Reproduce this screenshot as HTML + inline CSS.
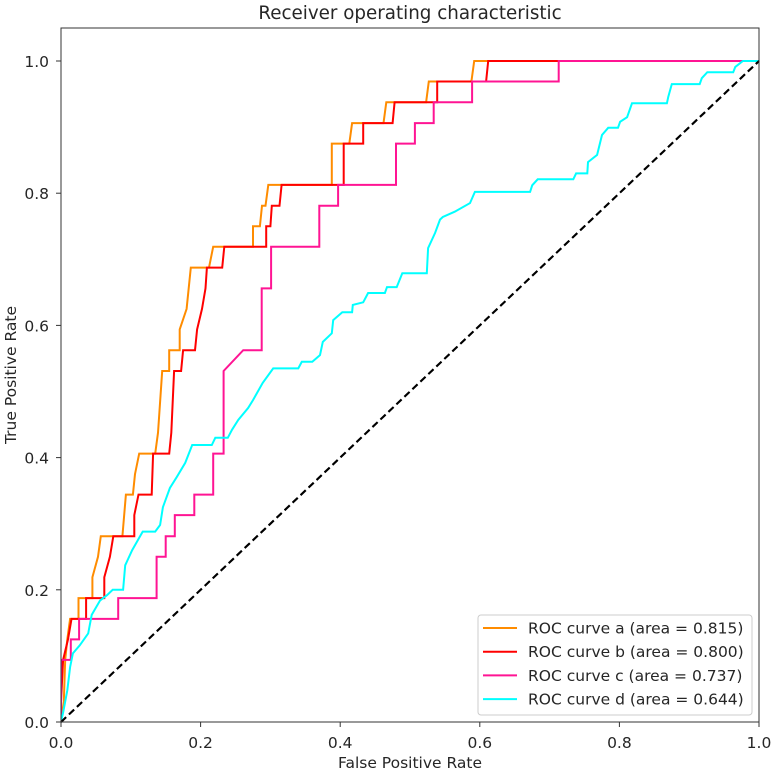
<!DOCTYPE html>
<html><head><meta charset="utf-8"><style>
body{margin:0;background:#fff;}
svg text{font-family:"DejaVu Sans","Liberation Sans",sans-serif;fill:#262626;}
</style></head><body>
<svg id="chart" width="775" height="775" viewBox="0 0 775 775" xmlns="http://www.w3.org/2000/svg">
<rect width="775" height="775" fill="#fff"/>
<g id="plot"></g>
</svg>
<script>
const curveA = [[0,0],[0.004,0.031],[0.006,0.094],[0.009,0.125],[0.013,0.156],[0.025,0.156],[0.025,0.1875],[0.045,0.1875],[0.045,0.219],[0.053,0.25],[0.057,0.281],[0.088,0.281],[0.093,0.344],[0.103,0.344],[0.106,0.375],[0.112,0.406],[0.135,0.406],[0.139,0.4375],[0.145,0.531],[0.155,0.531],[0.155,0.5625],[0.17,0.5625],[0.17,0.594],[0.18,0.625],[0.186,0.6875],[0.212,0.6875],[0.218,0.719],[0.275,0.719],[0.275,0.75],[0.285,0.75],[0.288,0.781],[0.293,0.781],[0.297,0.8125],[0.388,0.8125],[0.388,0.875],[0.413,0.875],[0.417,0.906],[0.462,0.906],[0.466,0.9375],[0.523,0.9375],[0.527,0.969],[0.588,0.969],[0.592,1],[1,1]];
const curveB = [[0,0],[0,0.031],[0.003,0.094],[0.01,0.125],[0.015,0.156],[0.036,0.156],[0.036,0.1875],[0.062,0.1875],[0.062,0.219],[0.07,0.25],[0.075,0.281],[0.105,0.281],[0.105,0.313],[0.111,0.344],[0.13,0.344],[0.132,0.406],[0.155,0.406],[0.158,0.4375],[0.162,0.531],[0.172,0.531],[0.175,0.5625],[0.192,0.5625],[0.195,0.594],[0.202,0.625],[0.207,0.656],[0.209,0.6875],[0.231,0.6875],[0.234,0.719],[0.294,0.719],[0.294,0.75],[0.3,0.75],[0.302,0.781],[0.313,0.781],[0.316,0.8125],[0.405,0.8125],[0.405,0.875],[0.433,0.875],[0.433,0.906],[0.475,0.906],[0.478,0.9375],[0.539,0.9375],[0.539,0.969],[0.609,0.969],[0.612,1],[1,1]];
const curveC = [[0,0],[0,0.094],[0.014,0.094],[0.014,0.125],[0.026,0.125],[0.026,0.156],[0.082,0.156],[0.082,0.1875],[0.137,0.1875],[0.137,0.25],[0.15,0.25],[0.15,0.281],[0.163,0.281],[0.163,0.313],[0.191,0.313],[0.191,0.344],[0.218,0.344],[0.218,0.406],[0.233,0.406],[0.233,0.531],[0.261,0.5625],[0.2876,0.5625],[0.2876,0.656],[0.301,0.656],[0.301,0.719],[0.37,0.719],[0.37,0.781],[0.397,0.781],[0.397,0.8125],[0.48,0.8125],[0.48,0.875],[0.507,0.875],[0.507,0.906],[0.534,0.906],[0.534,0.9375],[0.589,0.9375],[0.589,0.969],[0.713,0.969],[0.713,1],[1,1]];
const curveD = [[0,0],[0.003,0.014],[0.009,0.048],[0.013,0.083],[0.017,0.104],[0.027,0.116],[0.039,0.134],[0.044,0.162],[0.056,0.184],[0.066,0.192],[0.074,0.2],[0.089,0.2],[0.092,0.237],[0.102,0.26],[0.11,0.275],[0.117,0.288],[0.135,0.288],[0.142,0.298],[0.146,0.325],[0.156,0.354],[0.166,0.371],[0.178,0.392],[0.188,0.419],[0.216,0.419],[0.221,0.43],[0.239,0.43],[0.245,0.442],[0.254,0.457],[0.268,0.475],[0.275,0.487],[0.289,0.513],[0.304,0.535],[0.34,0.535],[0.345,0.545],[0.36,0.545],[0.371,0.555],[0.375,0.575],[0.388,0.588],[0.39,0.608],[0.403,0.62],[0.417,0.62],[0.418,0.631],[0.433,0.635],[0.44,0.649],[0.464,0.649],[0.467,0.658],[0.481,0.658],[0.489,0.679],[0.524,0.679],[0.526,0.717],[0.536,0.74],[0.543,0.76],[0.547,0.764],[0.564,0.772],[0.586,0.785],[0.593,0.802],[0.672,0.802],[0.675,0.812],[0.683,0.821],[0.734,0.821],[0.738,0.83],[0.754,0.83],[0.755,0.847],[0.768,0.858],[0.775,0.888],[0.784,0.899],[0.798,0.899],[0.801,0.908],[0.811,0.915],[0.818,0.936],[0.868,0.936],[0.87,0.946],[0.875,0.965],[0.915,0.965],[0.918,0.974],[0.926,0.983],[0.963,0.983],[0.966,0.991],[0.977,1],[1,1]];
const seriesLabels = ["ROC curve a (area = 0.815)","ROC curve b (area = 0.800)","ROC curve c (area = 0.737)","ROC curve d (area = 0.644)"];
const seriesColors = ["#ff8c00","#ff0000","#ff1493","#00ffff"];
const xTicks = [0,0.2,0.4,0.6,0.8,1.0];
const yTicks = [0,0.2,0.4,0.6,0.8,1.0];
const tickLabels = ["0.0","0.2","0.4","0.6","0.8","1.0"];

const L=61,R=759,B=722,T=28;
const xs=v=>L+v*(R-L);
const ys=v=>B-v*(B-61);
const NS="http://www.w3.org/2000/svg";
const g=document.getElementById('plot');
function mk(tag,attrs,parent){const e=document.createElementNS(NS,tag);for(const k in attrs)e.setAttribute(k,attrs[k]);(parent||g).appendChild(e);return e;}

let t=mk('text',{x:410,y:19,'text-anchor':'middle','font-size':'18.3'});t.textContent='Receiver operating characteristic';


t=mk('text',{x:410,y:768,'text-anchor':'middle','font-size':'15.5'});t.textContent='False Positive Rate';


t=mk('text',{x:0,y:0,'text-anchor':'middle','font-size':'15.5',transform:'translate(16,375) rotate(-90)'});t.textContent='True Positive Rate';



xTicks.forEach((v,i)=>{
  const l=mk('line',{x1:xs(v),x2:xs(v),y1:B,y2:B+5,stroke:'#333','stroke-width':1});
  
  
  const tx=mk('text',{x:xs(v),y:B+26,'text-anchor':'middle','font-size':'15.5'});tx.textContent=tickLabels[i];
  
  
});
yTicks.forEach((v,i)=>{
  const l=mk('line',{x1:L-5,x2:L,y1:ys(v),y2:ys(v),stroke:'#333','stroke-width':1});
  
  
  const tx=mk('text',{x:L-12,y:ys(v)+6,'text-anchor':'end','font-size':'15.5'});tx.textContent=tickLabels[i];
  
  
});

const defs=mk('defs',{});
const cp=mk('clipPath',{id:'clip'},defs);mk('rect',{x:L,y:T,width:R-L,height:B-T},cp);

let d=mk('line',{x1:xs(0),y1:ys(0),x2:xs(1),y2:ys(1),stroke:'#000','stroke-width':2,'stroke-dasharray':'7,4'});



const curves=[curveA,curveB,curveC,curveD];
const names=['roc-curve-a','roc-curve-b','roc-curve-c','roc-curve-d'];
curves.forEach((c,i)=>{
  const p=mk('polyline',{points:c.map(q=>xs(q[0]).toFixed(1)+','+ys(q[1]).toFixed(1)).join(' '),fill:'none',stroke:seriesColors[i],'stroke-width':2,'clip-path':'url(#clip)','stroke-linejoin':'miter'});
  
  
});
d=mk('line',{x1:xs(0),y1:ys(0),x2:xs(1),y2:ys(1),stroke:'#000','stroke-width':2,'stroke-dasharray':'7,4'});



const fr=mk('rect',{x:L,y:T,width:R-L,height:B-T,fill:'none',stroke:'#333','stroke-width':1});



const lg=mk('g',{});


mk('rect',{x:478,y:615,width:274,height:100,rx:3,fill:'#fff','fill-opacity':0.85,stroke:'#ccc','stroke-width':1},lg);
seriesLabels.forEach((s,i)=>{
  const y=628+i*23.7;
  const ln=mk('line',{x1:483,x2:517,y1:y,y2:y,stroke:seriesColors[i],'stroke-width':2},lg);
  
  
  const tx=mk('text',{x:528,y:y+5.5,'font-size':'15.5'},lg);tx.textContent=s;
  
  
});
</script>
</body></html>
